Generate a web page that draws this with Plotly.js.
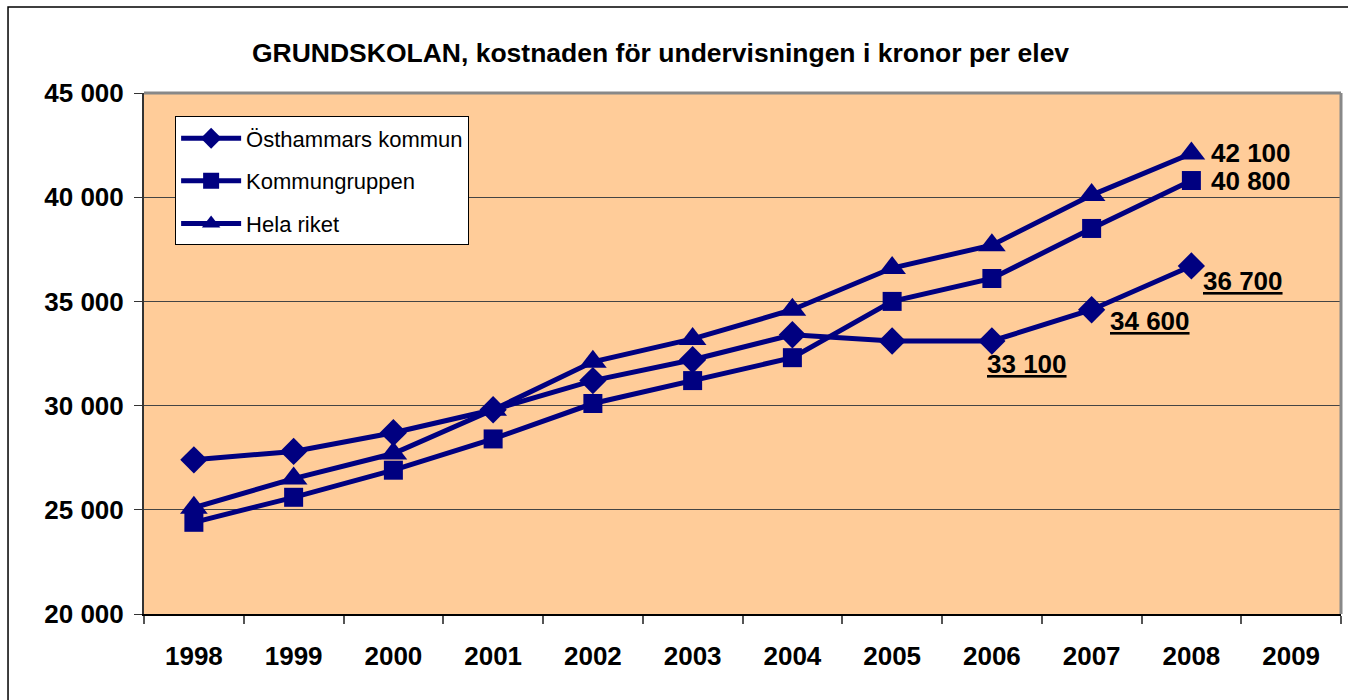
<!DOCTYPE html>
<html>
<head>
<meta charset="utf-8">
<script src="https://cdn.plot.ly/plotly-3.0.1.min.js"></script>
<style>
  body { margin: 0; background: #fff; }
  #chart { width: 1348px; height: 700px; }
</style>
</head>
<body>
<div id="chart"></div>
<script>
// years on the x axis (2009 has no data)
var years = ["1998", "1999", "2000", "2001", "2002", "2003", "2004", "2005", "2006", "2007", "2008", "2009"];
var dataYears = years.slice(0, 11);

// cost per pupil, kronor
var osthammar = [27400, 27800, 28700, 29800, 31200, 32200, 33400, 33100, 33100, 34600, 36700];
var kommungruppen = [24400, 25600, 26900, 28400, 30100, 31200, 32300, 35000, 36100, 38500, 40800];
var helaRiket = [25100, 26500, 27700, 29800, 32100, 33200, 34600, 36600, 37700, 40100, 42100];

var navy = "#000080";
var font = "Liberation Sans, Arial, sans-serif";

function fmt(v) {
    return String(v).replace(/\B(?=(\d{3})+(?!\d))/g, " ");
}

function series(name, y, symbol, size) {
    return {
        x: dataYears, y: y, name: name, legendgroup: name,
        type: "scatter", mode: "lines+markers",
        line: {color: navy, width: 5},
        marker: {symbol: symbol, size: size, color: navy}
    };
}

var data = [
    series("Östhammars kommun", osthammar, "diamond", 21),
    series("Kommungruppen", kommungruppen, "square", 19),
    series("Hela riket", helaRiket, "triangle-up", 24)
];

// value labels next to the last points (x given as category index)
var annotations = [
    {x: 10, y: helaRiket[10], text: "<b>" + fmt(helaRiket[10]) + "</b>", xshift: 60, yshift: 0},
    {x: 10, y: kommungruppen[10], text: "<b>" + fmt(kommungruppen[10]) + "</b>", xshift: 60, yshift: 0},
    {x: 10, y: osthammar[10], text: "<b><u>" + fmt(osthammar[10]) + "</u></b>", xshift: 52, yshift: -15},
    {x: 9, y: osthammar[9], text: "<b><u>" + fmt(osthammar[9]) + "</u></b>", xshift: 58, yshift: -11},
    {x: 8, y: osthammar[8], text: "<b><u>" + fmt(osthammar[8]) + "</u></b>", xshift: 35, yshift: -23}
].map(function(a) {
    a.xref = "x"; a.yref = "y"; a.showarrow = false;
    a.font = {family: font, size: 26, color: "#000"};
    return a;
});

var layout = {
    width: 1348, height: 700,
    margin: {l: 144, r: 7, t: 93, b: 86},
    paper_bgcolor: "#fff",
    plot_bgcolor: "#FFCC99",
    separators: ", ",
    font: {family: font, color: "#000"},
    title: {
        text: "<b>GRUNDSKOLAN, kostnaden för undervisningen i kronor per elev</b>",
        font: {family: font, size: 26.5, color: "#000"},
        x: 0.49, xanchor: "center", y: 0.924, yanchor: "middle"
    },
    xaxis: {
        type: "category", categoryorder: "array", categoryarray: years,
        range: [-0.5, 11.5],
        tickson: "boundaries", ticks: "outside", ticklen: 8, tickcolor: "#555", tickwidth: 1.5,
        showline: true, linecolor: "#000", linewidth: 2,
        showgrid: false, zeroline: false,
        tickfont: {family: font, size: 26, color: "#000", weight: "bold"},
        ticklabelstandoff: 18
    },
    yaxis: {
        range: [20000, 45000], dtick: 5000, tickformat: ",d",
        ticks: "outside", ticklen: 8, tickcolor: "#333",
        showline: true, linecolor: "#333", linewidth: 2,
        showgrid: true, gridcolor: "#444", gridwidth: 1,
        zeroline: false,
        tickfont: {family: font, size: 26, color: "#000", weight: "bold"},
        ticklabelstandoff: 5
    },
    legend: {
        x: 0.026, y: 0.955, xanchor: "left", yanchor: "top",
        bgcolor: "#fff", bordercolor: "#000", borderwidth: 1,
        font: {family: font, size: 22, color: "#000"},
        traceorder: "grouped", tracegroupgap: 11,
        itemwidth: 60
    },
    annotations: annotations,
    shapes: [
        // outer chart frame
        {type: "rect", xref: "paper", yref: "paper", x0: -0.1136, x1: 1.2, y0: -0.4, y1: 1.165,
         line: {color: "#000", width: 1.5}, layer: "below"},
        // grey frame top/right of plot area
        {type: "line", xref: "paper", yref: "paper", x0: 0, x1: 1, y0: 1, y1: 1, line: {color: "#888", width: 3}},
        {type: "line", xref: "paper", yref: "paper", x0: 1, x1: 1, y0: 0, y1: 1, line: {color: "#888", width: 3}}
    ],
    showlegend: true
};

Plotly.newPlot("chart", data, layout, {displayModeBar: false});
</script>
</body>
</html>
